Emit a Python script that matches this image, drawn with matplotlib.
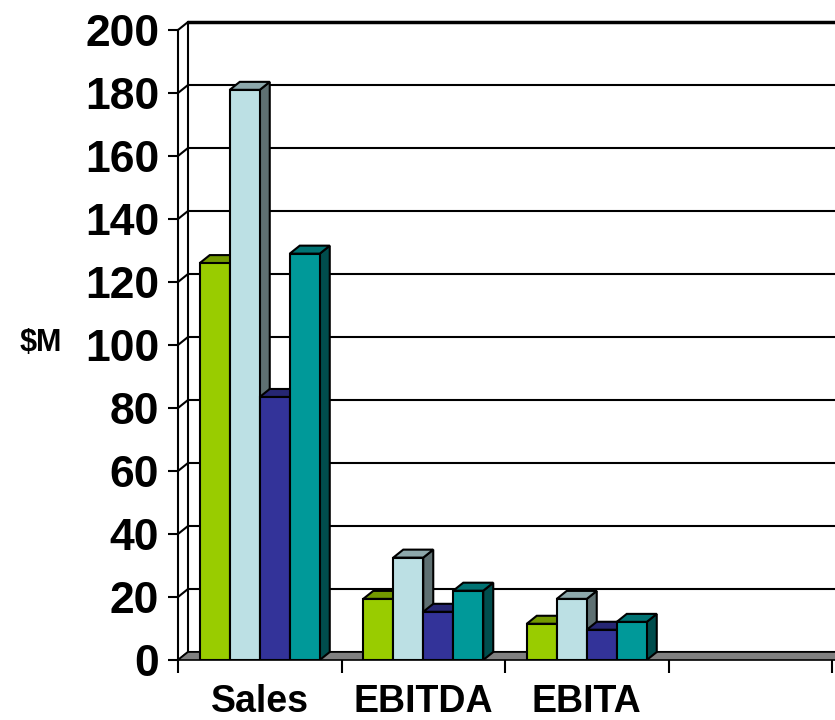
import numpy as np
import matplotlib.pyplot as plt
from matplotlib.patches import Polygon

categories = ["Sales", "EBITDA", "EBITA", ""]
series_1 = [126, 19.4, 11.5, 0]    # green
series_2 = [181, 32.5, 19.4, 0]    # light blue
series_3 = [83.5, 15.3, 9.6, 0]    # navy
series_4 = [129, 22, 12.1, 0]      # teal
y_ticks = list(range(0, 201, 20))

colors = ["#99CC00", "#BCE0E4", "#333399", "#009999"]

W, H = 835, 720
fig = plt.figure(figsize=(W / 100, H / 100), dpi=100)
ax = fig.add_axes([178 / W, 60 / H, 654 / W, 630 / H])
ax.set_xlim(0, 4)
ax.set_ylim(0, 200)

# depth offset of the fake 3D look, pixels -> data units
dx = 10 / (654 / 4)
dy = 8 / (630 / 200)

for s in ["top", "right", "bottom"]:
    ax.spines[s].set_visible(False)
ax.spines["left"].set_linewidth(1.5)

# back wall gridlines and side wall connectors
for v in y_ticks:
    lw = 2.5 if v == 200 else 1.5
    ax.plot([dx, 4 + dx + 0.2], [v + dy, v + dy], color="black", lw=lw,
            zorder=1, clip_on=False, solid_capstyle="butt")
    ax.plot([0, dx], [v, v + dy], color="black", lw=1.5, zorder=1, clip_on=False)
ax.plot([dx, dx], [dy, 200 + dy], color="black", lw=1.5, zorder=1, clip_on=False)

# floor
floor = Polygon([(0, 0), (4.2, 0), (4.2 + dx, dy), (dx, dy)], closed=True,
                facecolor="#808080", edgecolor="black", lw=1.2, zorder=2, clip_on=False)
ax.add_patch(floor)

def shade(c, f):
    r, g, b = [int(c[i:i + 2], 16) for i in (1, 3, 5)]
    return (r * f / 255, g * f / 255, b * f / 255)

bar_w = 0.1835
start = 0.5 - 2 * bar_w
all_series = [series_1, series_2, series_3, series_4]
z = 3
for ci in range(len(categories)):
    for si, ser in enumerate(all_series):
        v = ser[ci]
        if v <= 0:
            continue
        x0 = ci + start + si * bar_w
        x1 = x0 + bar_w
        c = colors[si]
        side = Polygon([(x1, 0), (x1 + dx, dy), (x1 + dx, v + dy), (x1, v)],
                       facecolor=shade(c, 0.5), edgecolor="black", lw=1.5, zorder=z)
        top = Polygon([(x0, v), (x1, v), (x1 + dx, v + dy), (x0 + dx, v + dy)],
                      facecolor=shade(c, 0.75), edgecolor="black", lw=1.5, zorder=z)
        ax.add_patch(side)
        ax.add_patch(top)
        ax.bar(x0, v, width=bar_w, align="edge", color=c, edgecolor="black",
               lw=1.5, zorder=z + 0.5)
        z += 1

ax.set_yticks(y_ticks)
ax.set_yticklabels([str(v) for v in y_ticks], fontsize=32, fontweight="bold",
                   family="Liberation Sans")
ax.tick_params(axis="y", length=7.5, width=1.5, pad=6)

ax.set_xticks([0, 1, 2, 3, 4])
ax.set_xticklabels([])
ax.set_xticks([0.5, 1.5, 2.5, 3.5], minor=True)
ax.set_xticklabels(categories, minor=True, fontsize=27, fontweight="bold",
                   family="Liberation Sans")
ax.tick_params(axis="x", which="major", length=9, width=1.5)
ax.tick_params(axis="x", which="minor", length=0, pad=17)

fig.text(41 / W, 1 - 343 / H, "$M", fontsize=22, fontweight="bold",
         family="Liberation Sans", ha="center", va="center")

fig.savefig("out.png", dpi=100)
